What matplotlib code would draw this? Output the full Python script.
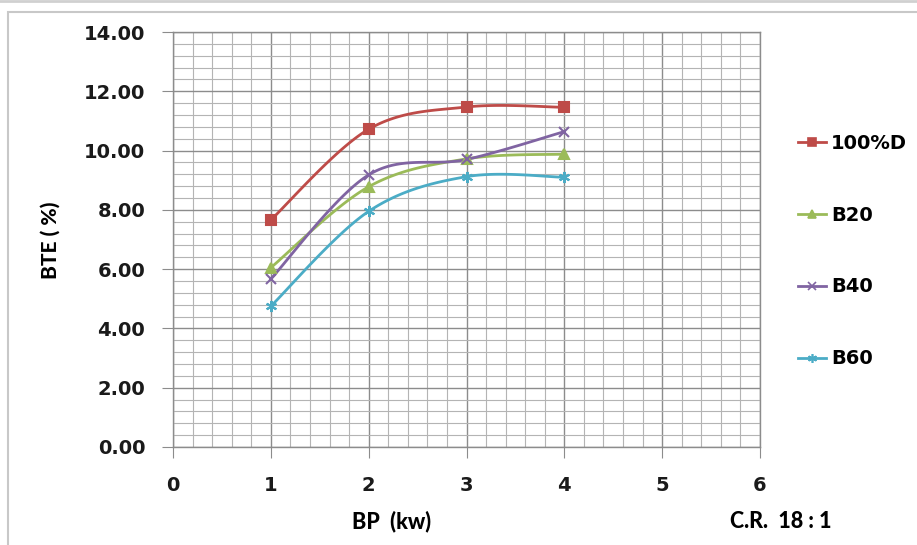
import matplotlib.pyplot as plt
import numpy as np
from matplotlib.lines import Line2D
from matplotlib.patches import Rectangle

# brake power (kW) and brake thermal efficiency (%) per fuel blend
bp = [1, 2, 3, 4]
bte_100d = [7.66, 10.72, 11.47, 11.46]
bte_b20 = [6.05, 8.78, 9.72, 9.88]
bte_b40 = [5.67, 9.18, 9.70, 10.64]
bte_b60 = [4.75, 7.95, 9.12, 9.10]

series = [
    ("100%D", bte_100d, "#BE4B48", "s", 7),
    ("B20", bte_b20, "#9BBB59", "^", 7),
    ("B40", bte_b40, "#8064A2", "x", 7),
    ("B60", bte_b60, "#4BACC6", (6, 2, 0), 8),
]


def smooth(xs, ys, n=40):
    """Catmull-Rom style bezier through the points (spreadsheet smoothed line)."""
    p = np.column_stack([xs, ys]).astype(float)
    ext = np.vstack([p[0], p, p[-1]])
    out = []
    t = np.linspace(0, 1, n)[:, None]
    for i in range(len(p) - 1):
        p0, p1, p2, p3 = ext[i], ext[i + 1], ext[i + 2], ext[i + 3]
        c1 = p1 + (p2 - p0) / 6
        c2 = p2 - (p3 - p1) / 6
        seg = ((1 - t) ** 3 * p1 + 3 * (1 - t) ** 2 * t * c1
               + 3 * (1 - t) * t ** 2 * c2 + t ** 3 * p2)
        out.append(seg if i == 0 else seg[1:])
    out = np.vstack(out)
    return out[:, 0], out[:, 1]


fig = plt.figure(figsize=(9.17, 5.45), dpi=100)
ax = fig.add_axes([173 / 917, 1 - 447 / 545, (760 - 173) / 917, (447 - 32) / 545])

# chart frame
fig.add_artist(Rectangle((8 / 917, -0.05), 1.2, 1 - 12 / 545 + 0.05,
                         transform=fig.transFigure, fill=False,
                         edgecolor="#c8c8c8", linewidth=1.5))
fig.add_artist(Line2D([0, 1], [1 - 1 / 545] * 2, transform=fig.transFigure,
                      color="#d0d0d0", linewidth=2))

for label, ys, color, marker, ms in series:
    sx, sy = smooth(bp, ys)
    ax.plot(sx, sy, color=color, linewidth=2, zorder=3)
    ax.plot(bp, ys, linestyle="none", marker=marker, markersize=ms,
            color=color, markeredgecolor=color, markeredgewidth=1.5, zorder=4)

ax.set_xlim(0, 6)
ax.set_ylim(0, 14)
ax.set_xticks(np.arange(0, 7, 1))
ax.set_yticks(np.arange(0, 15, 2))
ax.set_xticks(np.arange(0, 6.01, 0.2), minor=True)
ax.set_yticks(np.arange(0, 14.01, 0.4), minor=True)
ax.set_yticklabels([f"{v:.2f}" for v in np.arange(0, 15, 2)])

ax.grid(True, which="major", color="#8c8c8c", linewidth=1.0)
ax.grid(True, which="minor", color="#b4b4b4", linewidth=0.8)
ax.set_axisbelow(True)
for side in ["left", "bottom", "right", "top"]:
    ax.spines[side].set_color("#8c8c8c")
    ax.spines[side].set_linewidth(1.0)

ax.tick_params(which="major", direction="out", length=8, color="#8c8c8c",
               labelsize=14, pad=12)
ax.tick_params(axis="x", which="major", pad=13)
ax.tick_params(which="minor", length=0)
for lbl in ax.get_xticklabels() + ax.get_yticklabels():
    lbl.set_fontweight("bold")
    lbl.set_color("#1a1a1a")

fig.text(392 / 917, 1 - 521 / 545, "BP  (kw)", ha="center", va="center",
         fontsize=15.5, fontweight="black", family="Lato")
fig.text(781 / 917, 1 - 521 / 545, "C.R.  18 : 1", ha="center", va="center",
         fontsize=15.5, fontweight="black", family="Lato")
fig.text(50 / 917, 1 - 240 / 545, "BTE ( %)", ha="center", va="center",
         rotation=90, fontsize=15, fontweight="black", family="Lato")

handles = [Line2D([], [], color=c, marker=m, markersize=ms * 0.8, linewidth=2,
                  markeredgewidth=1.2)
           for _, _, c, m, ms in series]
fig.legend(handles, [s[0] for s in series], loc="center left",
           bbox_to_anchor=(788 / 917, 1 - 251 / 545), frameon=False,
           prop={"size": 14, "weight": "bold"}, labelspacing=2.72,
           handlelength=1.45, handletextpad=0.25, borderpad=0)

fig.savefig("out.png", dpi=100)
